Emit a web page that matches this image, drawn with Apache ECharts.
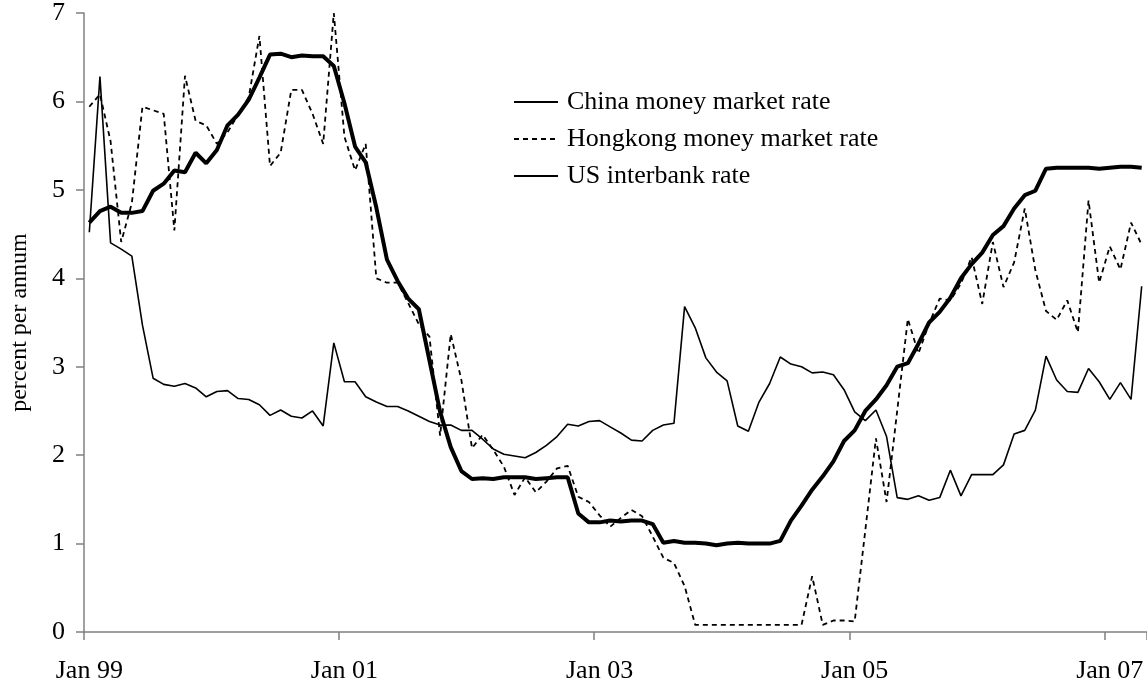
<!DOCTYPE html>
<html>
<head>
<meta charset="utf-8">
<script src="https://cdn.jsdelivr.net/npm/echarts@6/dist/echarts.min.js"></script>
<style>
html,body{margin:0;padding:0;background:#fff;}
#chart{width:1147px;height:686px;}
</style>
</head>
<body>
<div id="chart"></div>
<script>
// Monthly categories Jan 99 .. Apr 07
const monthNames = ["Jan","Feb","Mar","Apr","May","Jun","Jul","Aug","Sep","Oct","Nov","Dec"];
const yearLabels = ["99","00","01","02","03","04","05","06","07"];
const categories = [];
for (let y = 0; y < yearLabels.length; y++) {
  for (let m = 0; m < 12; m++) {
    if (categories.length < 100) categories.push(monthNames[m] + " " + yearLabels[y]);
  }
}
const yTicks = [0, 1, 2, 3, 4, 5, 6, 7];

const chinaRate = [
  4.52, 6.28, 4.40, 4.33, 4.25, 3.47, 2.87, 2.80, 2.78, 2.81, 2.76, 2.66,
  2.72, 2.73, 2.64, 2.63, 2.57, 2.45, 2.51, 2.44, 2.42, 2.50, 2.33, 3.27,
  2.83, 2.83, 2.66, 2.60, 2.55, 2.55, 2.50, 2.44, 2.38, 2.34, 2.34, 2.28,
  2.28, 2.18, 2.07, 2.01, 1.99, 1.97, 2.03, 2.11, 2.21, 2.35, 2.33, 2.38,
  2.39, 2.32, 2.25, 2.17, 2.16, 2.28, 2.34, 2.36, 3.68, 3.44, 3.10, 2.94,
  2.84, 2.33, 2.27, 2.60, 2.81, 3.11, 3.03, 3.00, 2.93, 2.94, 2.91, 2.74,
  2.49, 2.39, 2.51, 2.21, 1.52, 1.50, 1.54, 1.49, 1.52, 1.83, 1.54, 1.78,
  1.78, 1.78, 1.89, 2.24, 2.28, 2.51, 3.12, 2.85, 2.72, 2.71, 2.98, 2.83,
  2.63, 2.82, 2.63, 3.91
];

const hongkongRate = [
  5.94, 6.08, 5.55, 4.41, 4.85, 5.94, 5.90, 5.86, 4.54, 6.29, 5.78, 5.73,
  5.52, 5.65, 5.85, 6.05, 6.74, 5.27, 5.42, 6.13, 6.13, 5.86, 5.52, 7.00,
  5.60, 5.22, 5.52, 4.00, 3.95, 3.95, 3.72, 3.48, 3.34, 2.22, 3.37, 2.85,
  2.08, 2.23, 2.06, 1.87, 1.55, 1.75, 1.58, 1.70, 1.85, 1.88, 1.53, 1.47,
  1.32, 1.19, 1.29, 1.38, 1.31, 1.08, 0.84, 0.78, 0.52, 0.08, 0.08, 0.08,
  0.08, 0.08, 0.08, 0.08, 0.08, 0.08, 0.08, 0.08, 0.63, 0.08, 0.13, 0.13,
  0.12, 1.15, 2.19, 1.47, 2.50, 3.54, 3.15, 3.49, 3.77, 3.75, 3.94, 4.24,
  3.71, 4.41, 3.90, 4.18, 4.79, 4.09, 3.63, 3.53, 3.75, 3.39, 4.88, 3.95,
  4.36, 4.10, 4.63, 4.38
];

const usRate = [
  4.63, 4.76, 4.81, 4.74, 4.74, 4.76, 4.99, 5.07, 5.22, 5.20, 5.42, 5.30,
  5.45, 5.73, 5.85, 6.02, 6.27, 6.53, 6.54, 6.50, 6.52, 6.51, 6.51, 6.40,
  5.98, 5.49, 5.31, 4.80, 4.21, 3.97, 3.77, 3.65, 3.07, 2.49, 2.09, 1.82,
  1.73, 1.74, 1.73, 1.75, 1.75, 1.75, 1.73, 1.74, 1.75, 1.75, 1.34, 1.24,
  1.24, 1.26, 1.25, 1.26, 1.26, 1.22, 1.01, 1.03, 1.01, 1.01, 1.00, 0.98,
  1.00, 1.01, 1.00, 1.00, 1.00, 1.03, 1.26, 1.43, 1.61, 1.76, 1.93, 2.16,
  2.28, 2.50, 2.63, 2.79, 3.00, 3.04, 3.26, 3.50, 3.62, 3.78, 4.00, 4.16,
  4.29, 4.49, 4.59, 4.79, 4.94, 4.99, 5.24, 5.25, 5.25, 5.25, 5.25, 5.24,
  5.25, 5.26, 5.26, 5.25
];

const seriesNames = ["China money market rate", "Hongkong money market rate", "US interbank rate"];

const FONT = "'Liberation Serif', 'Times New Roman', serif";
const chart = echarts.init(document.getElementById('chart'), null, {renderer: 'canvas'});
const showEvery24 = function (idx) { return idx % 24 === 0; };

chart.setOption({
  animation: false,
  backgroundColor: '#ffffff',
  textStyle: { fontFamily: FONT, color: '#000' },
  grid: { left: 79, right: 0, top: 12, bottom: 54, containLabel: false },
  legend: {
    orient: 'vertical',
    left: 508,
    top: 82,
    itemWidth: 44,
    itemHeight: 14,
    itemGap: 7,
    itemStyle: { color: 'rgba(0,0,0,0)', borderColor: 'rgba(0,0,0,0)', borderWidth: 0 },
    textStyle: { fontFamily: FONT, fontSize: 26, color: '#000', lineHeight: 30, padding: [0, 0, 0, 4] },
    data: seriesNames
  },
  xAxis: {
    type: 'category',
    data: categories,
    boundaryGap: true,
    axisLine: { show: true, lineStyle: { color: '#808080', width: 1.5 } },
    axisTick: { show: true, length: 8, interval: showEvery24, alignWithLabel: false, lineStyle: { color: '#808080', width: 1.5 } },
    axisLabel: { interval: showEvery24, margin: 26, fontFamily: FONT, fontSize: 26, color: '#000' },
    splitLine: { show: false }
  },
  yAxis: {
    type: 'value',
    min: 0,
    max: 7,
    interval: 1,
    name: 'percent per annum',
    nameLocation: 'middle',
    nameRotate: 90,
    nameGap: 52,
    nameTextStyle: { fontFamily: FONT, fontSize: 24, color: '#000' },
    axisLine: { show: true, lineStyle: { color: '#808080', width: 1.5 } },
    axisTick: { show: true, length: 8, lineStyle: { color: '#808080', width: 1.5 } },
    axisLabel: {
      margin: 19, fontFamily: FONT, fontSize: 26, color: '#000',
      formatter: function (v) { return yTicks.indexOf(v) >= 0 ? String(v) : ''; }
    },
    splitLine: { show: false }
  },
  series: [
    {
      name: seriesNames[0], type: 'line', data: chinaRate, symbol: 'none',
      lineStyle: { color: '#000', width: 1.6, type: 'solid' },
      itemStyle: { color: '#000' }
    },
    {
      name: seriesNames[1], type: 'line', data: hongkongRate, symbol: 'none',
      lineStyle: { color: '#000', width: 1.8, type: [5, 4] },
      itemStyle: { color: '#000' }
    },
    {
      name: seriesNames[2], type: 'line', data: usRate, symbol: 'none',
      lineStyle: { color: '#000', width: 4, type: 'solid' },
      itemStyle: { color: '#000' }
    }
  ]
});
</script>
</body>
</html>
